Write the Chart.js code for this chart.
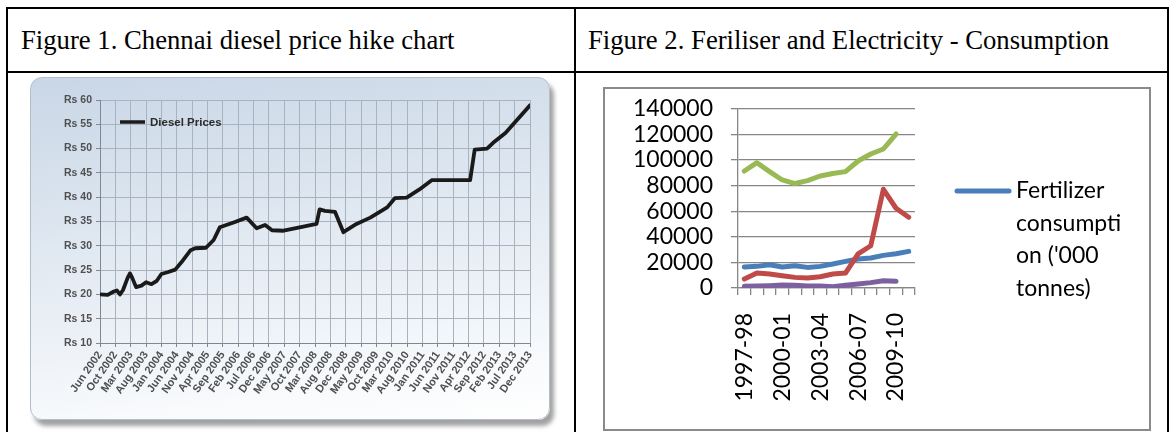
<!DOCTYPE html>
<html>
<head>
<meta charset="utf-8">
<script src="https://cdn.jsdelivr.net/npm/chart.js@4.4.1/dist/chart.umd.min.js"></script>
<style>
  html, body { margin:0; padding:0; background:#fff; }
  body { width:1175px; height:432px; overflow:hidden; position:relative; }
  .rule { position:absolute; background:#000; }
  .cap { position:absolute; font-family:'Liberation Serif','Times New Roman',serif; font-size:26.7px;
         line-height:1; color:#000; white-space:nowrap; }
  #fig1wrap { position:absolute; left:0; top:0; width:575px; height:432px; filter:blur(0.7px); }
  #panel { position:absolute; left:30px; top:77px; width:518px; height:341px; border-radius:12px;
           border:1px solid #b4bec9;
           background:linear-gradient(172deg,#c9d6e6 0%,#d9e3ee 30%,#ebf0f6 62%,#f8fafc 85%,#ffffff 100%);
           box-shadow:4px 6px 4px rgba(85,85,85,.55); }
  #c1 { position:absolute; left:30px; top:77px; }
  #frame2 { position:absolute; left:603px; top:87px; width:544px; height:340px; border:2px solid #8a8a8a; background:#fff; }
  #c2 { position:absolute; left:605px; top:77px; }
</style>
</head>
<body>
<!-- table rules -->
<div class="rule" style="left:6px;top:7px;width:1163px;height:2px"></div>
<div class="rule" style="left:6px;top:71px;width:1163px;height:2px"></div>
<div class="rule" style="left:6px;top:7px;width:2px;height:425px"></div>
<div class="rule" style="left:574px;top:7px;width:2px;height:425px"></div>
<div class="rule" style="left:1167px;top:7px;width:2px;height:425px"></div>

<div class="cap" style="left:21px;top:27px">Figure 1. Chennai diesel price hike chart</div>
<div class="cap" style="left:588px;top:27px">Figure 2. Feriliser and Electricity - Consumption</div>

<div id="fig1wrap">
  <div id="panel"></div>
  <canvas id="c1" width="520" height="343"></canvas>
</div>

<div id="frame2"></div>
<canvas id="c2" width="544" height="352"></canvas>

<script>
// ---- Figure 1: diesel price in Chennai (Rs per litre) ----
const dateLabels = ['Jun 2002','Oct 2002','Mar 2003','Aug 2003','Jan 2004','Jun 2004','Nov 2004','Apr 2005',
  'Sep 2005','Feb 2006','Jul 2006','Dec 2006','May 2007','Oct 2007','Mar 2008','Aug 2008','Dec 2008',
  'May 2009','Oct 2009','Mar 2010','Aug 2010','Jan 2011','Jun 2011','Nov 2011','Apr 2012','Sep 2012',
  'Feb 2013','Jul 2013','Dec 2013'];
// position along the date axis, measured in label steps
const dieselAt = [0, 0.5, 0.9, 1.1, 1.3, 1.5, 1.8, 1.95, 2.1, 2.35, 2.7, 3.0, 3.35, 3.7, 4.0, 4.45, 4.9,
  5.3, 5.9, 6.2, 6.9, 7.4, 7.8, 8.7, 9.55, 10.2, 10.75, 11.2, 11.95, 13.0, 14.1, 14.3, 14.65, 15.3,
  15.85, 16.7, 17.6, 18.7, 19.2, 19.97, 20.8, 21.6, 24.1, 24.4, 25.2, 25.6, 26.4, 28.0];
const dieselPrice = [20.0, 19.9, 20.6, 20.8, 20.0, 20.9, 23.4, 24.3, 23.4, 21.5, 21.8, 22.5, 22.1, 22.8,
  24.2, 24.6, 25.1, 26.6, 29.1, 29.5, 29.6, 31.2, 33.8, 34.8, 35.8, 33.6, 34.3, 33.2, 33.1, 33.8, 34.5,
  37.5, 37.2, 37.0, 32.8, 34.5, 35.8, 37.9, 39.8, 39.9, 41.6, 43.5, 43.5, 49.8, 50.0, 51.2, 53.2, 58.9];

// ---- Figure 2: consumption series by year ----
const years = ['1997-98','1998-99','1999-00','2000-01','2001-02','2002-03','2003-04','2004-05',
  '2005-06','2006-07','2007-08','2008-09','2009-10','2010-11'];
const fertilizer = [16400, 16900, 18200, 16400, 17400, 16100, 16900, 18700, 20800, 22600, 23400, 25500, 26700, 28600];
const seriesRed = [7000, 11700, 10900, 9600, 8300, 7800, 8800, 10900, 11700, 26700, 33000, 77100, 62300, 55300];
const seriesGreen = [91400, 97900, 90900, 84400, 81600, 83900, 87500, 89400, 90900, 99200, 104700, 108600, 120300];
const seriesPurple = [1300, 1500, 1800, 2300, 2100, 1600, 1600, 1000, 2100, 3100, 4200, 5700, 5200];

// legend drawn inside the plot area, top-left
const dieselLegend = {
  id: 'dieselLegend',
  afterDraw(chart) {
    const { ctx, chartArea } = chart;
    const ds = chart.data.datasets[0];
    const y = chartArea.top + 22;
    ctx.save();
    ctx.strokeStyle = ds.borderColor;
    ctx.lineWidth = 3.5;
    ctx.beginPath();
    ctx.moveTo(chartArea.left + 20, y);
    ctx.lineTo(chartArea.left + 45, y);
    ctx.stroke();
    ctx.fillStyle = '#2b2b2b';
    ctx.font = 'bold 11.5px "Liberation Sans", Arial, sans-serif';
    ctx.textBaseline = 'middle';
    ctx.fillText(ds.label, chartArea.left + 50, y + 1);
    ctx.restore();
  }
};

new Chart(document.getElementById('c1'), {
  type: 'line',
  data: {
    datasets: [{
      label: 'Diesel Prices',
      data: dieselAt.map((x, i) => ({ x, y: dieselPrice[i] })),
      borderColor: '#1a1a1a',
      borderWidth: 3.8,
      pointRadius: 0,
      tension: 0,
      borderJoinStyle: 'round',
      borderCapStyle: 'round'
    }]
  },
  options: {
    responsive: false,
    animation: false,
    events: [],
    layout: { padding: { left: 20, right: 20, top: 23, bottom: 7 } },
    plugins: { legend: { display: false }, tooltip: { enabled: false } },
    scales: {
      x: {
        type: 'linear', min: 0, max: dateLabels.length - 1,
        afterFit: s => { s.height = 70; },
        grid: { color: '#a9b3bf', lineWidth: 1, tickLength: 4, tickColor: '#7f8790' },
        border: { color: '#7f8790', width: 1 },
        ticks: {
          stepSize: 1, autoSkip: false, minRotation: 55, maxRotation: 55, padding: 2,
          color: '#505050', font: { family: '"Liberation Sans", Arial, sans-serif', size: 11, weight: 'bold' },
          callback: v => dateLabels[v]
        }
      },
      y: {
        min: 10, max: 60,
        afterFit: s => { s.width = 50; },
        grid: { color: '#a9b3bf', lineWidth: 1, tickLength: 4, tickColor: '#7f8790' },
        border: { color: '#7f8790', width: 1 },
        ticks: {
          stepSize: 5, autoSkip: false, padding: 4, color: '#505050',
          font: { family: '"Liberation Sans", Arial, sans-serif', size: 10.5, weight: 'bold' },
          callback: v => 'Rs ' + v
        }
      }
    }
  },
  plugins: [dieselLegend]
});

// legend at the right, wrapping long names by character like a spreadsheet
const wrapLegend = {
  id: 'wrapLegend',
  afterDraw(chart) {
    const { ctx } = chart;
    const ds = chart.data.datasets[0];
    const font = '23px Lato, "Open Sans", sans-serif';
    const maxW = 110;
    ctx.save();
    ctx.font = font;
    const lines = [];
    let cur = '';
    for (const word of ds.label.split(' ')) {
      const trial = cur ? cur + ' ' + word : word;
      if (ctx.measureText(trial).width <= maxW) { cur = trial; continue; }
      if (cur) { lines.push(cur); cur = ''; }
      let piece = '';
      for (const ch of word) {
        if (ctx.measureText(piece + ch).width > maxW) { lines.push(piece); piece = ch; }
        else piece += ch;
      }
      cur = piece;
    }
    if (cur) lines.push(cur);
    const x0 = 350, y0 = 114;
    ctx.strokeStyle = ds.borderColor;
    ctx.lineWidth = 5;
    ctx.lineCap = 'round';
    ctx.beginPath();
    ctx.moveTo(x0 + 2, y0);
    ctx.lineTo(x0 + 54, y0);
    ctx.stroke();
    ctx.fillStyle = '#000';
    ctx.textBaseline = 'alphabetic';
    lines.forEach((t, i) => ctx.fillText(t, x0 + 61, y0 + 7 + i * 32.7));
    ctx.restore();
  }
};

const lineStyle = { pointRadius: 0, borderWidth: 5, tension: 0, borderJoinStyle: 'round', borderCapStyle: 'round', fill: false };

new Chart(document.getElementById('c2'), {
  type: 'line',
  data: {
    labels: years,
    datasets: [
      Object.assign({ label: "Fertilizer consumption ('000 tonnes)", data: fertilizer, borderColor: '#4a7ebb', order: 4 }, lineStyle),
      Object.assign({ label: 'Series 2', data: seriesRed, borderColor: '#be4b48', order: 3 }, lineStyle),
      Object.assign({ label: 'Series 3', data: seriesGreen, borderColor: '#98b954', order: 2 }, lineStyle),
      Object.assign({ label: 'Series 4', data: seriesPurple, borderColor: '#7d60a0', order: 1 }, lineStyle)
    ]
  },
  options: {
    responsive: false,
    animation: false,
    events: [],
    layout: { padding: { left: 10, right: 234, top: 31, bottom: 5 } },
    plugins: { legend: { display: false }, tooltip: { enabled: false } },
    scales: {
      x: {
        offset: true,
        afterFit: s => { s.height = 136; },
        grid: { offset: true, drawOnChartArea: false, drawTicks: true, tickLength: 7, color: '#868686', lineWidth: 1.3 },
        border: { color: '#868686', width: 1.3 },
        ticks: {
          autoSkip: false, minRotation: 90, maxRotation: 90, padding: 18, color: '#000',
          font: { family: 'Lato, "Open Sans", sans-serif', size: 23 },
          callback: (v, i) => (i % 3 === 0 ? years[i] : '')
        }
      },
      y: {
        min: 0, max: 140000,
        afterFit: s => { s.width = 123; },
        grid: { color: '#868686', lineWidth: 1.3, tickLength: 7 },
        border: { color: '#868686', width: 1.3 },
        ticks: {
          stepSize: 20000, autoSkip: false, padding: 18, color: '#000',
          font: { family: 'Lato, "Open Sans", sans-serif', size: 23 },
          callback: v => String(v)
        }
      }
    }
  },
  plugins: [wrapLegend]
});
</script>
</body>
</html>
